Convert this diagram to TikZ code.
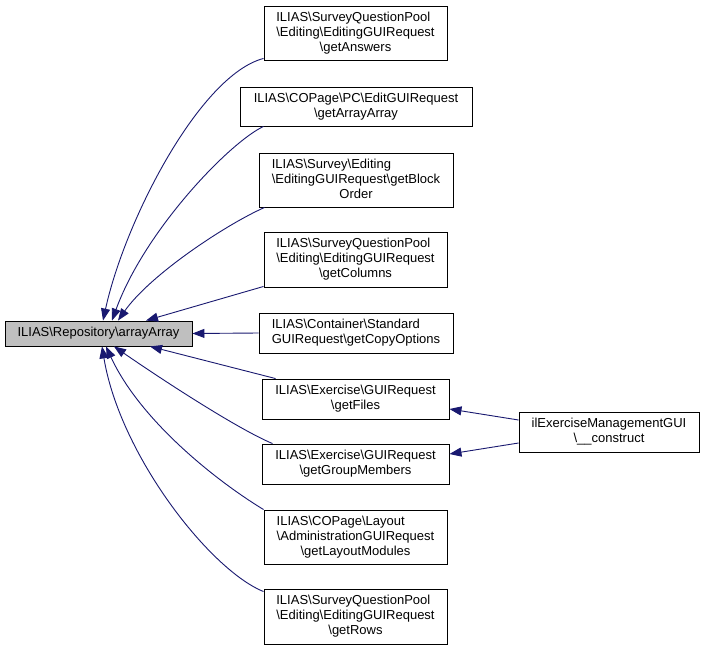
\documentclass[tikz,border=0pt]{standalone}
\usepackage{fontspec}
\setmainfont{Liberation Sans}
\usepackage{tikz}
\usetikzlibrary{arrows.meta}
\usepackage{color}
\definecolor{midnight}{RGB}{25, 25, 112}
\definecolor{nodegray}{RGB}{191, 191, 191}
\newcommand{\bsl}{\textbackslash}
\newcommand{\fnlabel}[2]{\begin{tabular}{@{}l@{}}#1\\\multicolumn{1}{@{}c@{}}{#2}\end{tabular}}
\tikzset{
  fnbox/.style={draw=black, fill=white, line width=0.9pt, inner sep=0pt, font=\fontsize{13}{15}\selectfont},
  mainbox/.style={fnbox, fill=nodegray},
  callarrow/.style={draw=midnight, line width=0.9pt, -{Triangle[length=12pt, width=9pt]}}
}

\begin{document}
\begin{tikzpicture}[x=1pt, y=-1pt]
            \path[fill=white, use as bounding box] (0,0) rectangle (704,651);
            \node[mainbox, minimum width=187, minimum height=25] (main) at ( 98.5,333.5) {ILIAS\bsl{}Repository\bsl{}arrayArray};
            \node[fnbox, minimum width=183, minimum height=54] (ans)   at (355.5, 33.0) {\fnlabel{ILIAS\bsl{}SurveyQuestionPool\\\bsl{}Editing\bsl{}EditingGUIRequest}{\bsl{}getAnswers}};
            \node[fnbox, minimum width=232, minimum height=39] (arr)   at (356.0,106.5) {\fnlabel{ILIAS\bsl{}COPage\bsl{}PC\bsl{}EditGUIRequest}{\bsl{}getArrayArray}};
            \node[fnbox, minimum width=194, minimum height=54] (blk)   at (356.0,180.0) {\fnlabel{ILIAS\bsl{}Survey\bsl{}Editing\\\bsl{}EditingGUIRequest\bsl{}getBlock}{Order}};
            \node[fnbox, minimum width=183, minimum height=55] (col)   at (355.5,259.5) {\fnlabel{ILIAS\bsl{}SurveyQuestionPool\\\bsl{}Editing\bsl{}EditingGUIRequest}{\bsl{}getColumns}};
            \node[fnbox, minimum width=194, minimum height=40] (copy)  at (356.0,333.0) {\fnlabel{ILIAS\bsl{}Container\bsl{}Standard}{GUIRequest\bsl{}getCopyOptions}};
            \node[fnbox, minimum width=187, minimum height=40] (files) at (355.5,399.0) {\fnlabel{ILIAS\bsl{}Exercise\bsl{}GUIRequest}{\bsl{}getFiles}};
            \node[fnbox, minimum width=187, minimum height=40] (grp)   at (355.5,464.0) {\fnlabel{ILIAS\bsl{}Exercise\bsl{}GUIRequest}{\bsl{}getGroupMembers}};
            \node[fnbox, minimum width=183, minimum height=54] (lay)   at (355.5,537.0) {\fnlabel{ILIAS\bsl{}COPage\bsl{}Layout\\\bsl{}AdministrationGUIRequest}{\bsl{}getLayoutModules}};
            \node[fnbox, minimum width=183, minimum height=55] (rows)  at (355.5,616.5) {\fnlabel{ILIAS\bsl{}SurveyQuestionPool\\\bsl{}Editing\bsl{}EditingGUIRequest}{\bsl{}getRows}};
            \node[fnbox, minimum width=180, minimum height=40] (cons)  at (609.0,432.0) {\fnlabel{ilExerciseManagementGUI}{\bsl{}\_\_construct}};
            \draw[callarrow] ([yshift=2pt]ans.south west) .. controls (200,75) and (125,220) .. ([xshift=4.5pt]main.north);
            \draw[callarrow] ([xshift=24pt]arr.south west) .. controls (230,142) and (145,230) .. ([xshift=13.5pt]main.north);
            \draw[callarrow] ([xshift=6pt]blk.south west) .. controls (225,225) and (150,275) .. ([xshift=19.5pt]main.north);
            \draw[callarrow] ([yshift=1pt]col.south west) -- ([xshift=47.5pt]main.north);
            \draw[callarrow] (copy.west) -- (main.east);
            \draw[callarrow] ([xshift=14pt]files.north west) -- ([xshift=51.5pt]main.south);
            \draw[callarrow] ([xshift=11pt]grp.north west) .. controls (240,430) and (170,385) .. ([xshift=15.5pt]main.south);
            \draw[callarrow] (lay.north west) .. controls (215,480) and (140,420) .. ([xshift=7.5pt]main.south);
            \draw[callarrow] ([yshift=-3pt]rows.north west) .. controls (210,570) and (120,455) .. ([xshift=3.5pt]main.south);
            \draw[callarrow] ([yshift=12pt]cons.west) -- ([yshift=-10pt]files.east);
            \draw[callarrow] ([yshift=-11pt]cons.west) -- ([yshift=10pt]grp.east);
        \end{tikzpicture}
\end{document}
